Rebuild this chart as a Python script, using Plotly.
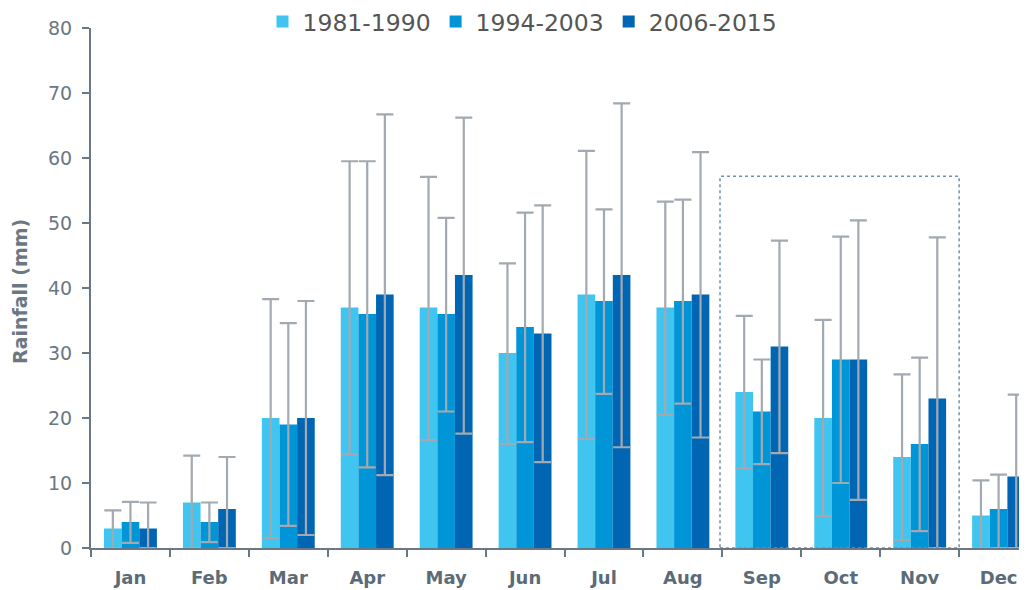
import plotly.graph_objects as go

months = ['Jan', 'Feb', 'Mar', 'Apr', 'May', 'Jun', 'Jul', 'Aug', 'Sep', 'Oct', 'Nov', 'Dec']

# mean rainfall per period
r_1981 = [3, 7, 20, 37, 37, 30, 39, 37, 24, 20, 14, 5]
r_1994 = [4, 4, 19, 36, 36, 34, 38, 38, 21, 29, 16, 6]
r_2006 = [3, 6, 20, 39, 42, 33, 42, 39, 31, 29, 23, 11]

# error bar ends (upper / lower)
hi_1981 = [5.8, 14.2, 38.3, 59.5, 57.1, 43.8, 61.1, 53.3, 35.7, 35.1, 26.7, 10.4]
lo_1981 = [0, 0, 1.5, 14.4, 16.6, 16.0, 16.8, 20.5, 12.2, 4.9, 1.2, 0]
hi_1994 = [7.1, 7.0, 34.6, 59.5, 50.8, 51.6, 52.1, 53.6, 29.0, 47.9, 29.3, 11.3]
lo_1994 = [0.8, 0.9, 3.4, 12.4, 21.0, 16.3, 23.7, 22.2, 12.9, 10.0, 2.6, 0]
hi_2006 = [7.0, 14.0, 38.0, 66.7, 66.2, 52.7, 68.4, 60.9, 47.3, 50.4, 47.8, 23.6]
lo_2006 = [0, 0, 2.0, 11.2, 17.6, 13.2, 15.5, 17.0, 14.6, 7.4, 0, 0]

series = [
    ('1981-1990', r_1981, hi_1981, lo_1981, '#3FC5F0'),
    ('1994-2003', r_1994, hi_1994, lo_1994, '#0095D7'),
    ('2006-2015', r_2006, hi_2006, lo_2006, '#0066B3'),
]

fig = go.Figure()
for name, vals, hi, lo, col in series:
    fig.add_trace(go.Bar(
        x=months, y=vals, name=name, marker=dict(color=col, line=dict(width=0)),
        error_y=dict(type='data', symmetric=False,
                     array=[h - v for h, v in zip(hi, vals)],
                     arrayminus=[v - l for v, l in zip(vals, lo)],
                     color='#A2A9B0', thickness=2.2, width=8.5),
    ))

# dashed box around Sep-Nov
fig.add_shape(type='rect', xref='x', yref='y', x0=7.47, x1=10.5, y0=0, y1=57.2,
              line=dict(color='#6E93A6', width=1.5, dash='3px,3px'), layer='above')

# page has an 8px body margin, so the figure is a bit smaller than the window
fig.update_layout(
    width=1019, height=582,
    margin=dict(l=83, r=0, t=20, b=42, autoexpand=False),
    plot_bgcolor='white', paper_bgcolor='white',
    barmode='group', bargap=0.33, bargroupgap=0,
    font=dict(family='DejaVu Sans', color='#6B7782'),
    showlegend=True,
    legend=dict(orientation='h', x=0.461, xanchor='center', y=1.012, yanchor='middle',
                font=dict(size=23.5, color='#555555'), itemwidth=30,
                traceorder='normal', tracegroupgap=0),
    annotations=[dict(text='<b>Rainfall (mm)</b>', textangle=-90, xref='paper', yref='paper',
                      x=(20 - 91) / 936, y=(548 - 292) / 520, xanchor='center', yanchor='middle',
                      showarrow=False, font=dict(size=19, color='#6B7782'))],
)

fig.update_yaxes(range=[0, 80], dtick=10, showgrid=False, zeroline=False, automargin=False,
                 showline=True, linecolor='#6B7782', linewidth=2,
                 ticks='outside', ticklen=7, tickwidth=2, tickcolor='#6B7782',
                 tickfont=dict(size=19, color='#6B7782'), ticklabelstandoff=6)
fig.update_xaxes(range=[-0.5, 11.36], showgrid=False, zeroline=False, automargin=False,
                 showline=True, linecolor='#6B7782', linewidth=2,
                 ticks='outside', ticklen=7, tickwidth=2, tickcolor='#6B7782',
                 tickson='boundaries',
                 tickfont=dict(size=18, color='#5B6B78', family='DejaVu Sans'),
                 tickprefix='<b>', ticksuffix='</b>', ticklabelstandoff=12)

fig.write_html("out.html")
